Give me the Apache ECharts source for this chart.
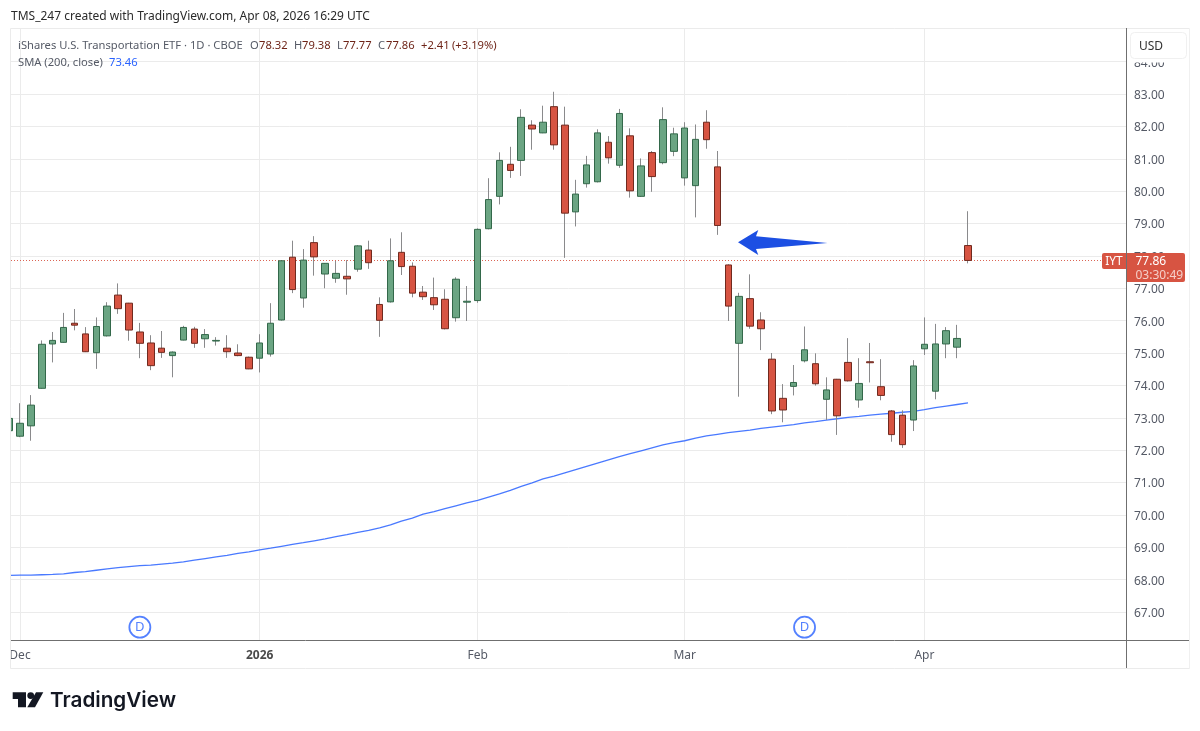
<!DOCTYPE html>
<html>
<head>
<meta charset="utf-8">
<title>IYT daily</title>
<script src="https://cdn.jsdelivr.net/npm/echarts@6/dist/echarts.min.js"></script>
<style>html,body{margin:0;padding:0;background:#fff}#chart{width:1200px;height:731px}</style>
</head>
<body>
<div id="chart"></div>
<script>
// Trading sessions are numbered from Dec 1 (0); session -1 is the Nov 28 bar at the left edge.
const firstSession = -1;
const opens = [72.60,72.43,72.75,73.91,75.28,75.33,75.92,75.59,75.01,75.53,76.79,76.54,75.65,75.31,75.15,74.92,75.40,75.74,75.44,75.37,75.15,75.00,74.87,74.84,74.97,76.02,77.96,76.70,78.41,77.44,77.31,77.37,77.59,78.18,76.50,76.58,78.11,77.68,76.88,76.71,76.66,76.09,76.57,76.62,78.84,79.84,80.83,80.95,82.04,81.80,82.61,82.04,79.36,80.23,80.29,81.51,80.80,81.71,79.84,81.19,80.88,81.23,80.41,80.17,82.13,80.75,77.72,75.30,76.68,76.02,74.81,73.60,73.97,74.76,74.67,73.57,74.19,74.71,73.55,74.73,73.96,73.21,73.08,72.93,75.13,73.82,75.28,75.18,78.32];
const closes = [72.98,72.83,73.39,75.27,75.39,75.79,75.86,75.04,75.82,76.45,76.37,75.71,75.30,74.61,75.02,75.03,75.79,75.30,75.57,75.39,75.04,74.92,74.51,75.31,75.92,77.85,76.96,77.87,77.97,77.77,77.46,77.29,78.31,77.79,76.01,77.85,77.67,76.85,76.74,76.49,75.75,77.28,76.60,78.82,79.74,80.95,80.64,82.28,81.92,82.13,81.43,79.32,79.91,80.81,81.80,81.03,82.40,80.01,80.78,80.45,82.21,81.77,81.95,81.60,81.59,78.94,76.45,76.75,75.83,75.75,73.21,73.24,74.09,75.10,74.05,73.86,73.06,74.14,74.06,74.70,73.69,72.48,72.17,74.60,75.27,75.28,75.69,75.45,77.86];
const lows = [72.50,72.40,72.29,73.90,74.71,75.32,75.70,75.03,74.51,75.51,76.21,75.38,74.84,74.47,74.85,74.25,75.39,75.16,75.16,75.23,74.85,74.90,74.50,74.40,74.89,76.00,76.85,76.40,77.39,77.00,77.17,76.80,77.51,77.60,75.50,76.56,77.41,76.72,76.64,76.33,75.73,75.97,75.99,76.55,78.82,79.59,80.41,80.47,81.28,81.79,81.28,77.94,78.91,80.11,80.27,80.85,80.72,79.80,79.82,79.98,80.83,81.08,80.17,79.19,81.31,78.65,75.99,73.65,75.75,75.09,73.11,72.86,73.69,74.71,73.99,72.93,72.47,74.12,73.31,74.09,73.54,72.26,72.07,72.59,74.94,73.57,74.84,74.84,77.77];
const highs = [73.10,73.45,73.70,75.39,75.65,76.24,76.36,75.80,76.10,76.57,77.15,76.55,75.93,75.55,75.68,75.05,75.84,75.81,75.74,75.49,75.55,75.27,74.89,75.58,76.54,77.87,78.47,78.21,78.61,77.78,77.85,77.87,78.33,78.47,76.72,78.54,78.73,77.80,77.07,77.33,76.97,77.34,77.07,78.85,80.40,81.20,81.37,82.53,82.19,82.64,83.07,82.61,80.35,81.09,81.91,81.70,82.54,81.94,81.01,81.24,82.59,81.96,82.13,82.06,82.50,81.24,77.74,76.86,77.43,76.26,75.00,74.04,74.63,75.82,74.99,74.25,74.20,75.46,74.84,75.31,74.81,73.24,73.23,74.78,76.10,75.90,75.80,75.87,79.38];
const sma200 = [68.13,68.14,68.14,68.15,68.16,68.18,68.22,68.25,68.29,68.33,68.37,68.40,68.43,68.45,68.48,68.51,68.55,68.60,68.65,68.70,68.75,68.81,68.86,68.92,68.97,69.03,69.09,69.14,69.20,69.26,69.33,69.39,69.46,69.52,69.60,69.69,69.81,69.90,70.02,70.10,70.19,70.28,70.37,70.45,70.55,70.65,70.76,70.88,70.99,71.11,71.20,71.30,71.40,71.50,71.60,71.70,71.80,71.89,71.98,72.07,72.16,72.23,72.29,72.37,72.44,72.49,72.54,72.58,72.62,72.67,72.71,72.75,72.79,72.84,72.88,72.93,72.97,73.01,73.04,73.08,73.11,73.14,73.17,73.20,73.25,73.31,73.36,73.41,73.46];
const monthSessions = [0, 22, 42, 61, 83];
const monthLabels = ['Dec', '2026', 'Feb', 'Mar', 'Apr'];
const priceTicks = [67,68,69,70,71,72,73,74,75,76,77,78,79,80,81,82,83,84];
const dividendSessions = [11, 72];
const dividendLevel = 66.53;
const lastClose = closes[closes.length - 1];

const UI_FONT = '"Noto Sans", sans-serif';
const LEGEND_SIZE = 11.2;
const GREY = '#555a66';
const RED_VALUE = '#6e2418';
const BLUE = '#2962ff';
const UP = '#6ba583', DOWN = '#d75442', UP_EDGE = '#33684a', DOWN_EDGE = '#702a1f', WICK = '#8a8a8c';

const session = i => i + firstSession;
const wicks = opens.map((o, i) => [session(i), o, closes[i], lows[i], highs[i]]);
const bodies = opens.map((o, i) => [session(i), o, closes[i], Math.min(o, closes[i]), Math.max(o, closes[i])]);
const smaLine = sma200.map((v, i) => [session(i), v]);

function text(x, y, str, fill, size, extra) {
  return {
    type: 'text', z: 100, silent: true,
    style: Object.assign({ x, y, text: str, fill, font: (size || 12) + 'px ' + UI_FONT, textVerticalAlign: 'middle' }, extra || {})
  };
}
function rule(x1, y1, x2, y2, stroke) {
  return { type: 'line', z: 90, silent: true, shape: { x1, y1, x2, y2 }, style: { stroke, lineWidth: 1 } };
}

const chart = echarts.init(document.getElementById('chart'), null, { renderer: 'canvas' });
chart.setOption({
  animation: false,
  backgroundColor: '#ffffff',
  grid: { left: 11, right: 74, top: 28, bottom: 91, containLabel: false },
  xAxis: {
    type: 'value', min: -0.826, max: 101.5,
    axisLine: { show: false },
    axisTick: { show: false, customValues: monthSessions },
    splitLine: { show: true, lineStyle: { color: '#ebebeb', width: 1 } },
    axisLabel: {
      customValues: monthSessions, margin: 10, showMinLabel: true, showMaxLabel: true,
      fontFamily: UI_FONT, fontSize: 12, color: GREY,
      formatter: v => {
        const s = monthLabels[monthSessions.indexOf(v)];
        return s === '2026' ? '{y|' + s + '}' : s;
      },
      rich: { y: { fontFamily: UI_FONT, fontSize: 12, fontWeight: 'bold', color: '#4a4a4a' } }
    }
  },
  yAxis: {
    type: 'value', position: 'right', min: 66.135, max: 85.04, scale: true,
    axisLine: { show: false },
    axisTick: { show: false, customValues: priceTicks },
    splitLine: { show: true, lineStyle: { color: '#ebebeb', width: 1 } },
    axisLabel: {
      customValues: priceTicks, margin: 8,
      formatter: v => '{p|' + v.toFixed(2) + '}',
      rich: { p: { fontFamily: UI_FONT, fontSize: 12, color: GREY, padding: [3, 0, 0, 0] } }
    }
  },
  series: [
    {
      name: 'SMA 200', type: 'line', data: smaLine, showSymbol: false, symbol: 'none', z: 3, silent: true,
      lineStyle: { color: BLUE, width: 1.3, opacity: 0.85 }
    },
    {
      name: 'wicks', type: 'candlestick', data: wicks, barWidth: 1, z: 4, silent: true,
      itemStyle: { color: WICK, color0: WICK, borderColor: WICK, borderColor0: WICK, borderWidth: 1 },
      markLine: {
        silent: true, symbol: 'none', label: { show: false },
        lineStyle: { color: DOWN, type: [1, 2], width: 1, opacity: 0.9 },
        data: [{ yAxis: lastClose }]
      }
    },
    {
      name: 'IYT', type: 'candlestick', data: bodies, barWidth: 7, z: 5, silent: true,
      itemStyle: { color: UP, color0: DOWN, borderColor: UP_EDGE, borderColor0: DOWN_EDGE, borderWidth: 1 }
    },
    {
      name: 'dividends', type: 'scatter', z: 6, silent: true, symbol: 'circle', symbolSize: 21,
      data: dividendSessions.map(s => [s, dividendLevel]),
      itemStyle: { color: '#ffffff', borderColor: BLUE, borderWidth: 1.8 },
      label: { show: true, position: 'inside', formatter: 'D', color: BLUE, fontFamily: UI_FONT, fontSize: 13 }
    }
  ],
  graphic: { elements: [
    // The pane cuts off the bar that starts left of it
    { type: 'rect', z: 80, silent: true, shape: { x: 0, y: 29, width: 10.5, height: 611 }, style: { fill: '#ffffff' } },

    // Pane frame and axis separators
    rule(10.5, 28.5, 1189.5, 28.5, '#ebebeb'),
    rule(10.5, 28.5, 10.5, 668.5, '#ebebeb'),
    rule(1189.5, 28.5, 1189.5, 668.5, '#f0f0f0'),
    rule(10.5, 668.5, 1189.5, 668.5, '#ebebeb'),
    rule(11, 640.5, 1189, 640.5, '#6f6f6f'),
    rule(1126.5, 28, 1126.5, 668, '#6f6f6f'),

    // Currency button, with the strip below it that hides the top price label
    { type: 'rect', z: 94, silent: true, shape: { x: 1128, y: 58, width: 60, height: 4.5 }, style: { fill: '#ffffff' } },
    { type: 'rect', z: 95, silent: true, shape: { x: 1130.5, y: 32.5, width: 56, height: 26, r: 4 },
      style: { fill: '#ffffff', stroke: '#f0f0f0', lineWidth: 1 } },
    text(1139, 46.5, 'USD', '#333333', 12),

    // Header
    text(11, 17, 'TMS_247 created with TradingView.com, Apr 08, 2026 16:29 UTC', '#2a2a2a', 12),
    text(18, 45.5, 'iShares U.S. Transportation ETF · 1D · CBOE', GREY, LEGEND_SIZE),
    text(250, 45.5, 'O', GREY, LEGEND_SIZE), text(259, 45.5, '78.32', RED_VALUE, LEGEND_SIZE),
    text(294, 45.5, 'H', GREY, LEGEND_SIZE), text(302, 45.5, '79.38', RED_VALUE, LEGEND_SIZE),
    text(337, 45.5, 'L', GREY, LEGEND_SIZE), text(343, 45.5, '77.77', RED_VALUE, LEGEND_SIZE),
    text(378, 45.5, 'C', GREY, LEGEND_SIZE), text(386, 45.5, '77.86', RED_VALUE, LEGEND_SIZE),
    text(421, 45.5, '+2.41', RED_VALUE, LEGEND_SIZE), text(452, 45.5, '(+3.19%)', RED_VALUE, LEGEND_SIZE),
    text(18, 62.5, 'SMA (200, close)', GREY, LEGEND_SIZE), text(109, 62.5, '73.46', BLUE, LEGEND_SIZE),

    // Annotation arrow
    { type: 'polygon', z: 60, silent: true,
      shape: { points: [[738,242.3],[758.3,230],[756,236.3],[827.5,243],[756,249],[758.3,255]] },
      style: { fill: '#1c4fe3' } },

    // Last price tags
    { type: 'rect', z: 95, silent: true, shape: { x: 1102, y: 253, width: 24, height: 16, r: [2,0,0,2] }, style: { fill: DOWN } },
    text(1114, 262, 'IYT', '#ffffff', 12, { textAlign: 'center' }),
    { type: 'rect', z: 95, silent: true, shape: { x: 1127, y: 253, width: 58, height: 29, r: [0,2,2,0] }, style: { fill: DOWN } },
    text(1135.5, 262, lastClose.toFixed(2), '#ffffff', 12),
    text(1135.5, 275.5, '03:30:49', '#f5cfc9', 12),

    // Wordmark
    { type: 'polygon', z: 100, silent: true,
      shape: { points: [[12.7,692.3],[26,692.3],[26,707.3],[18,707.3],[18,699],[12.7,699]] }, style: { fill: '#131722' } },
    { type: 'circle', z: 100, silent: true, shape: { cx: 30.7, cy: 695.6, r: 3.4 }, style: { fill: '#131722' } },
    { type: 'polygon', z: 100, silent: true,
      shape: { points: [[36,692.3],[43.3,692.3],[35,707.3],[27.3,707.3]] }, style: { fill: '#131722' } },
    { type: 'text', z: 100, silent: true,
      style: { x: 50, y: 701, text: 'TradingView', fill: '#131722', font: '600 20.7px Inter, sans-serif', textVerticalAlign: 'middle' } }
  ] }
});
</script>
</body>
</html>
